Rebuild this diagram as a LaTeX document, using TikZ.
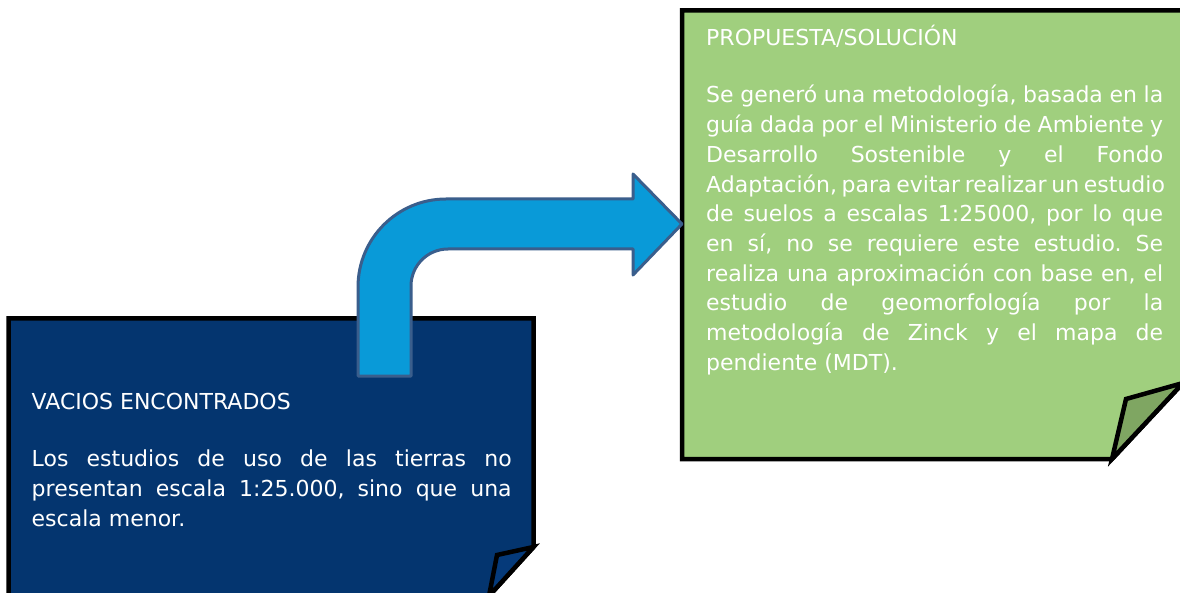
\documentclass[tikz,border=0pt]{standalone}
\usepackage{fontspec}
\setmainfont{DejaVu Sans}
\frenchspacing
\newcommand\jline[2]{\hbox to #1{#2}}
\newcommand\lastline[1]{\hbox{#1}}
\definecolor{navy}{HTML}{04356F}
\definecolor{navyfold}{HTML}{053A7A}
\definecolor{leaf}{HTML}{A0CF7E}
\definecolor{leaffold}{HTML}{7FA662}
\definecolor{arrowfill}{HTML}{099AD8}
\definecolor{arrowline}{HTML}{3A5E8C}
\tikzset{
  notebox/.style={draw=black, line width=4.5pt, line join=miter},
  bodytext/.style={anchor=base west, inner sep=0pt, text=white, align=justify,
    font=\fontsize{22}{29.7}\selectfont},
  headtext/.style={anchor=base west, inner sep=0pt, text=white,
    font=\fontsize{22}{29.7}\selectfont},
  bentarrow/.style={fill=arrowfill, draw=arrowline, line width=3pt, line join=round}
}
\begin{document}
\begin{tikzpicture}[x=1pt,y=-1pt]
\useasboundingbox (0,0) rectangle (1180,593);
% blue note
\draw[notebox, fill=navy] (8.5,318.5) -- (533.5,318.5) -- (533.5,547) -- (489,596) -- (8.5,596) -- cycle;
\draw[notebox, fill=navyfold] (533.5,547) -- (497,555) -- (489,596) -- cycle;
% green note
\draw[notebox, fill=leaf] (682,10.5) -- (1183,10.5) -- (1183,383) -- (1112,459) -- (682,459) -- cycle;
\draw[notebox, fill=leaffold] (1183,383) -- (1126,399) -- (1112,459) -- cycle;
% bent arrow
\draw[bentarrow] (358,376) -- (358,287) arc[start angle=180,end angle=270,radius=88]
  -- (633,199) -- (633,174) -- (682,224) -- (633,275) -- (633,249) -- (448,249)
  arc[start angle=270,end angle=180,radius=37] -- (411,376) -- cycle;
% texts
\node[headtext] (h1) at (31.5,409.5) {VACIOS ENCONTRADOS};
\node[bodytext, text width=480pt] (b1) at (31.5,466.7) {\spaceskip=0pt\xspaceskip=0pt\hbadness=10000\hfuzz=20pt
\jline{480pt}{Los estudios de uso de las tierras no}
\jline{480pt}{presentan escala 1:25.000, sino que una}
\lastline{escala menor.}};
\node[headtext] (h2) at (706,46) {PROPUESTA/SOLUCIÓN};
\node[bodytext, text width=457pt] (b2) at (706,103) {\spaceskip=0pt\xspaceskip=0pt\hbadness=10000\hfuzz=20pt
\jline{457pt}{Se generó una metodología, basada en la}
\jline{457pt}{guía dada por el Ministerio de Ambiente y}
\jline{457pt}{Desarrollo Sostenible y el Fondo}
\jline{457pt}{Adaptación, para evitar realizar un estudio}
\jline{457pt}{de suelos a escalas 1:25000, por lo que}
\jline{457pt}{en sí, no se requiere este estudio. Se}
\jline{457pt}{realiza una aproximación con base en, el}
\jline{457pt}{estudio de geomorfología por la}
\jline{457pt}{metodología de Zinck y el mapa de}
\lastline{pendiente (MDT).}};
\end{tikzpicture}
\end{document}
